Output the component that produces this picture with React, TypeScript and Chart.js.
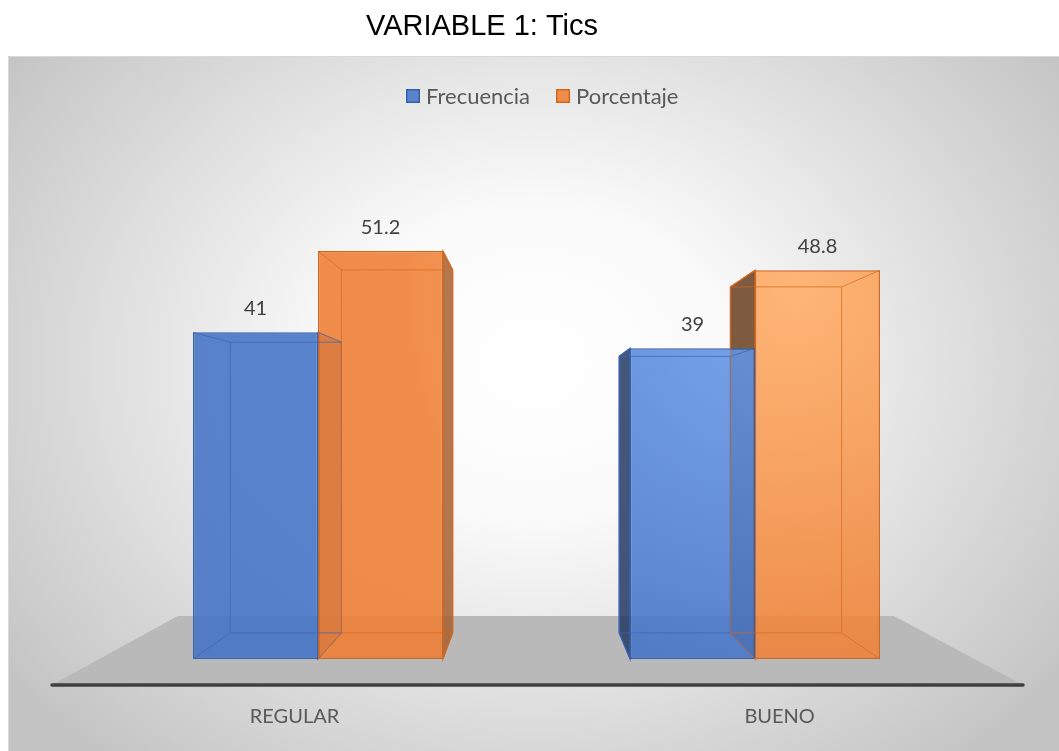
import { useEffect, useRef } from "react";
import { Chart, registerables } from "chart.js";

Chart.register(...registerables);

// ---- data ----
const TITLE = "VARIABLE 1: Tics";
const CATEGORIES = ["REGULAR", "BUENO"];
const SERIES_NAMES = ["Frecuencia", "Porcentaje"];
const FRECUENCIA = [41, 39];
const PORCENTAJE = [51.2, 48.8];
const Y_MIN = 0;
const Y_MAX = 60;

// ---- styles ----
const LEGEND_FILL = ["#5b84cc", "#f08d4b"];
const FACE_EDGE = ["rgba(67,116,199,0.88)", "rgba(239,126,51,0.88)"];
const FACE_LIGHT = ["rgba(106,156,238,0.88)", "rgba(255,173,101,0.88)"];
const BORDER = ["#3560ac", "#d2661c"];
const INNER = ["rgba(60,100,180,0.7)", "rgba(215,105,30,0.7)"];
const SIDE_RIGHT = ["rgba(55,85,145,0.8)", "rgba(165,95,48,0.85)"];
const SIDE_LEFT = ["rgba(36,56,100,0.85)", "rgba(105,62,32,0.85)"];
const VP_FX = 0.494; // vanishing point as fraction of chart area
const VP_FY = 0.504;
const DEPTH = 0.11;
const FONT = "Lato, 'Open Sans', sans-serif";

function vp(chart: any) {
  const ca = chart.chartArea;
  return { x: ca.left + (ca.right - ca.left) * VP_FX, y: ca.top + (ca.bottom - ca.top) * VP_FY };
}

function barBox(el: any) {
  const p = el.getProps(["x", "y", "base", "width"], true);
  return { l: p.x - p.width / 2, r: p.x + p.width / 2, t: Math.min(p.y, p.base), b: Math.max(p.y, p.base), cx: p.x };
}

function faceFill(i: number) {
  return (context: any) => {
    const chart = context.chart;
    const ca = chart.chartArea;
    if (!ca) return FACE_EDGE[i];
    const w = ca.right - ca.left, h = ca.bottom - ca.top;
    const gx = ca.left + w * 0.8, gy = ca.top + h * 0.23;
    const g = chart.ctx.createRadialGradient(gx, gy, 0, gx, gy, w * 0.45);
    g.addColorStop(0, FACE_LIGHT[i]);
    g.addColorStop(1, FACE_EDGE[i]);
    return g;
  };
}

const decor = {
  id: "decor",
  beforeDraw(chart: any) {
    const { ctx, width, height, chartArea: ca } = chart;
    ctx.save();
    ctx.fillStyle = "#ffffff";
    ctx.fillRect(0, 0, width, height);
    // chart box with radial gradient
    const bx = 8, by = 56, bw = width - bx, bh = height - by;
    const cx = bx + bw / 2, cy = by + bh / 2 - 40;
    const rx = bw * 0.62, ry = bh * 0.75;
    ctx.save();
    ctx.beginPath();
    ctx.rect(bx, by, bw, bh);
    ctx.clip();
    ctx.translate(cx, cy);
    ctx.scale(1, ry / rx);
    const g = ctx.createRadialGradient(0, 0, 0, 0, 0, rx);
    g.addColorStop(0, "#ffffff");
    g.addColorStop(0.3, "#fafafa");
    g.addColorStop(1, "#c4c4c4");
    ctx.fillStyle = g;
    ctx.fillRect(-cx - 10, (-cy - 10) * rx / ry, width + 20, (height + 20) * rx / ry * 2);
    ctx.restore();
    ctx.strokeStyle = "#d9d9d9";
    ctx.lineWidth = 1;
    ctx.beginPath();
    ctx.moveTo(bx + 0.5, height);
    ctx.lineTo(bx + 0.5, by + 0.5);
    ctx.lineTo(width, by + 0.5);
    ctx.stroke();

    // title
    ctx.fillStyle = "#000000";
    ctx.font = "29px 'Liberation Sans', Arial, sans-serif";
    ctx.textAlign = "center";
    ctx.textBaseline = "middle";
    ctx.fillText(TITLE, 482, 27);

    // legend
    ctx.font = "22px " + FONT;
    ctx.textAlign = "left";
    let lx = 406;
    const ly = 96;
    SERIES_NAMES.forEach((name, i) => {
      ctx.fillStyle = LEGEND_FILL[i];
      ctx.fillRect(lx, ly - 7, 14, 14);
      ctx.strokeStyle = BORDER[i];
      ctx.lineWidth = 1.5;
      ctx.strokeRect(lx + 0.75, ly - 6.25, 12.5, 12.5);
      ctx.fillStyle = "#595959";
      ctx.fillText(name, lx + 20, ly + 1);
      lx += 20 + ctx.measureText(name).width + 26;
    });

    // floor
    const v = vp(chart);
    const fy = ca.bottom + 26;
    const fl = ca.left - 47.5;
    const fr = ca.right + 49.5;
    const k = (fy - 616) / (fy - v.y);
    const back = (p: { x: number; y: number }) => ({ x: p.x + (v.x - p.x) * k, y: p.y + (v.y - p.y) * k });
    const bl = back({ x: fl, y: fy });
    const br = back({ x: fr, y: fy });
    ctx.fillStyle = "#b9b9b9";
    ctx.beginPath();
    ctx.moveTo(fl, fy);
    ctx.lineTo(bl.x, bl.y);
    ctx.lineTo(br.x, br.y);
    ctx.lineTo(fr, fy);
    ctx.closePath();
    ctx.fill();
    ctx.strokeStyle = "#404040";
    ctx.lineWidth = 3.5;
    ctx.lineCap = "round";
    ctx.beginPath();
    ctx.moveTo(fl, fy);
    ctx.lineTo(fr, fy);
    ctx.stroke();
    ctx.restore();
  },
  beforeDatasetsDraw(chart: any) {
    const { ctx } = chart;
    const v = vp(chart);
    const bk = (x: number, y: number) => ({ x: x + (v.x - x) * DEPTH, y: y + (v.y - y) * DEPTH });
    ctx.save();
    chart.data.datasets.forEach((_: any, di: number) => {
      chart.getDatasetMeta(di).data.forEach((el: any) => {
        const b = barBox(el);
        const faces: { pts: { x: number; y: number }[]; fill: string }[] = [];
        if (b.r < v.x) {
          const a = bk(b.r, b.t), c = bk(b.r, b.b);
          faces.push({ pts: [{ x: b.r, y: b.t }, a, c, { x: b.r, y: b.b }], fill: SIDE_RIGHT[di] });
        }
        if (b.l > v.x) {
          const a = bk(b.l, b.t), c = bk(b.l, b.b);
          faces.push({ pts: [{ x: b.l, y: b.t }, a, c, { x: b.l, y: b.b }], fill: SIDE_LEFT[di] });
        }
        if (b.t > v.y) {
          const a = bk(b.l, b.t), c = bk(b.r, b.t);
          faces.push({ pts: [{ x: b.l, y: b.t }, a, c, { x: b.r, y: b.t }], fill: SIDE_RIGHT[di] });
        }
        faces.forEach((f) => {
          ctx.fillStyle = f.fill;
          ctx.beginPath();
          ctx.moveTo(f.pts[0].x, f.pts[0].y);
          f.pts.slice(1).forEach((p) => ctx.lineTo(p.x, p.y));
          ctx.closePath();
          ctx.fill();
          ctx.strokeStyle = BORDER[di];
          ctx.lineWidth = 1.2;
          ctx.stroke();
        });
      });
    });
    ctx.restore();
  },
  afterDatasetsDraw(chart: any) {
    const { ctx } = chart;
    const v = vp(chart);
    const bk = (x: number, y: number) => ({ x: x + (v.x - x) * DEPTH, y: y + (v.y - y) * DEPTH });
    ctx.save();
    const centers: number[][] = CATEGORIES.map(() => []);
    chart.data.datasets.forEach((ds: any, di: number) => {
      chart.getDatasetMeta(di).data.forEach((el: any, j: number) => {
        const b = barBox(el);
        centers[j].push(b.cx);
        const tl = bk(b.l, b.t), tr = bk(b.r, b.t), bl = bk(b.l, b.b), br = bk(b.r, b.b);
        ctx.strokeStyle = INNER[di];
        ctx.lineWidth = 1;
        ctx.beginPath();
        ctx.moveTo(tl.x, tl.y);
        ctx.lineTo(tr.x, tr.y);
        ctx.lineTo(br.x, br.y);
        ctx.lineTo(bl.x, bl.y);
        ctx.closePath();
        ctx.moveTo(b.l, b.t); ctx.lineTo(tl.x, tl.y);
        ctx.moveTo(b.r, b.t); ctx.lineTo(tr.x, tr.y);
        ctx.moveTo(b.l, b.b); ctx.lineTo(bl.x, bl.y);
        ctx.moveTo(b.r, b.b); ctx.lineTo(br.x, br.y);
        ctx.stroke();
        // value label
        ctx.fillStyle = "#404040";
        ctx.font = "20px " + FONT;
        ctx.textAlign = "center";
        ctx.textBaseline = "middle";
        ctx.fillText(String(ds.data[j]), b.cx, b.t - 24);
      });
    });
    // category labels, projected onto the front edge of the floor
    ctx.fillStyle = "#595959";
    ctx.font = "20px " + FONT;
    ctx.textAlign = "center";
    ctx.textBaseline = "middle";
    CATEGORIES.forEach((c, j) => {
      const gc = centers[j].reduce((a, b) => a + b, 0) / centers[j].length;
      ctx.fillText(c, v.x + (gc - v.x) * 1.11, 717);
    });
    ctx.restore();
  },
};

export default function App() {
  const ref = useRef<HTMLCanvasElement | null>(null);
  useEffect(() => {
    document.body.style.margin = "0";
    document.body.style.overflow = "hidden";
    const canvas = ref.current!;
    const chart = new Chart(canvas, {
      type: "bar",
      data: {
        labels: CATEGORIES,
        datasets: [
          {
            label: SERIES_NAMES[0],
            data: FRECUENCIA,
            backgroundColor: faceFill(0),
            borderColor: BORDER[0],
            borderWidth: 1.5,
            borderSkipped: false,
          },
          {
            label: SERIES_NAMES[1],
            data: PORCENTAJE,
            backgroundColor: faceFill(1),
            borderColor: BORDER[1],
            borderWidth: 1.5,
            borderSkipped: false,
          },
        ],
      },
      options: {
        animation: false,
        responsive: false,
        devicePixelRatio: 1,
        datasets: { bar: { categoryPercentage: 0.572, barPercentage: 1.0 } },
        layout: { padding: { left: 99.5, right: 85.5, top: 181, bottom: 92 } },
        plugins: { legend: { display: false }, title: { display: false }, tooltip: { enabled: false } },
        scales: {
          x: { display: false, grid: { display: false } },
          y: { display: false, min: Y_MIN, max: Y_MAX, grid: { display: false } },
        },
      },
      plugins: [decor],
    });
    return () => chart.destroy();
  }, []);
  return (
    <div style={{ width: 1059, height: 751 }}>
      <canvas ref={ref} width={1059} height={751} style={{ display: "block" }} />
    </div>
  );
}
